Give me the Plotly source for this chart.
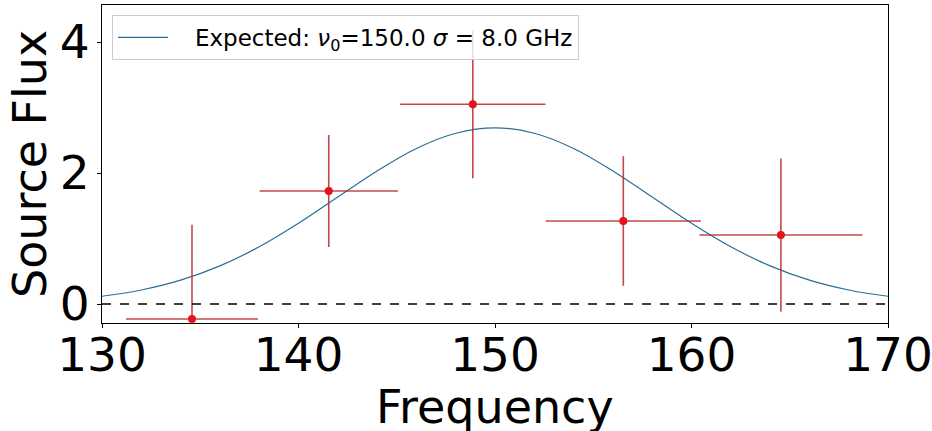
import plotly.graph_objects as go

# Measured points
freq = [134.58, 141.54, 148.87, 156.53, 164.55]
flux = [-0.23, 1.725, 3.05, 1.267, 1.053]
flux_err = [1.44, 0.855, 1.13, 0.99, 1.17]
freq_halfwidth = [3.36, 3.52, 3.70, 3.95, 4.15]

# Expected model curve values
curve_freq = [130, 132, 134, 136, 138, 140, 142, 144, 146, 148, 150,
              152, 154, 156, 158, 160, 162, 164, 166, 168, 170]
curve_flux = [0.118, 0.214, 0.364, 0.582, 0.873, 1.232, 1.632, 2.030, 2.374, 2.607, 2.69,
              2.607, 2.374, 2.030, 1.632, 1.232, 0.873, 0.582, 0.364, 0.214, 0.118]

x_ticks = [130, 140, 150, 160, 170]
y_ticks = [0, 2, 4]

FONT = "DejaVu Sans"
ERR_COLOR = "rgba(185,40,45,0.85)"

fig = go.Figure()

fig.add_trace(go.Scatter(
    x=curve_freq, y=curve_flux, mode="lines", line_shape="spline",
    line=dict(color="#2a6f97", width=1.2),
    name="\u00a0\u00a0\u00a0Expected: <i>ν</i><sub>0</sub>=150.0 <i>σ</i> = 8.0 GHz",
))

fig.add_trace(go.Scatter(
    x=freq, y=flux, mode="markers",
    marker=dict(color="#e3121b", size=8),
    error_y=dict(type="data", array=flux_err, color=ERR_COLOR, thickness=1.6, width=0),
    error_x=dict(type="data", array=freq_halfwidth, color=ERR_COLOR, thickness=1.6, width=0),
    showlegend=False,
))

fig.add_hline(y=0, line=dict(color="black", width=1.5, dash="dash"))

axis_common = dict(
    showline=True, linecolor="black", linewidth=1, mirror=True, automargin=False,
    ticks="outside", ticklen=4, tickcolor="black", showgrid=False, zeroline=False,
    tickfont=dict(family=FONT, size=47, color="black"),
    ticklabeloverflow="allow",
)

fig.update_xaxes(
    range=[130, 170], tickvals=x_ticks, ticktext=[str(v) for v in x_ticks],
    ticklabelstandoff=-13,
    **axis_common,
)
fig.update_yaxes(
    range=[-0.29, 4.565], tickvals=y_ticks, ticktext=[str(v) for v in y_ticks],
    ticklabelstandoff=-2,
    **axis_common,
)

fig.update_layout(
    width=932, height=431,
    margin=dict(l=102, r=44, t=5, b=108),
    paper_bgcolor="white", plot_bgcolor="white",
    font=dict(family=FONT, color="black"),
    legend=dict(
        x=0.0127, y=0.9686, xanchor="left", yanchor="top",
        bgcolor="rgba(255,255,255,0.8)", bordercolor="#cccccc", borderwidth=1,
        font=dict(family=FONT, size=23, color="black"),
        itemwidth=50,
    ),
    annotations=[
        dict(text="Frequency", xref="paper", yref="paper", x=0.5, y=0, yshift=-55,
             xanchor="center", yanchor="top", showarrow=False,
             font=dict(family=FONT, size=46, color="black")),
        dict(text="Source Flux", xref="paper", yref="paper", x=0, y=0.5, xshift=-72,
             xanchor="center", yanchor="middle", textangle=-90, showarrow=False,
             font=dict(family=FONT, size=46, color="black")),
    ],
)

fig.write_html("out.html", post_script="document.body.style.margin='0';",
               config={"displayModeBar": False})
